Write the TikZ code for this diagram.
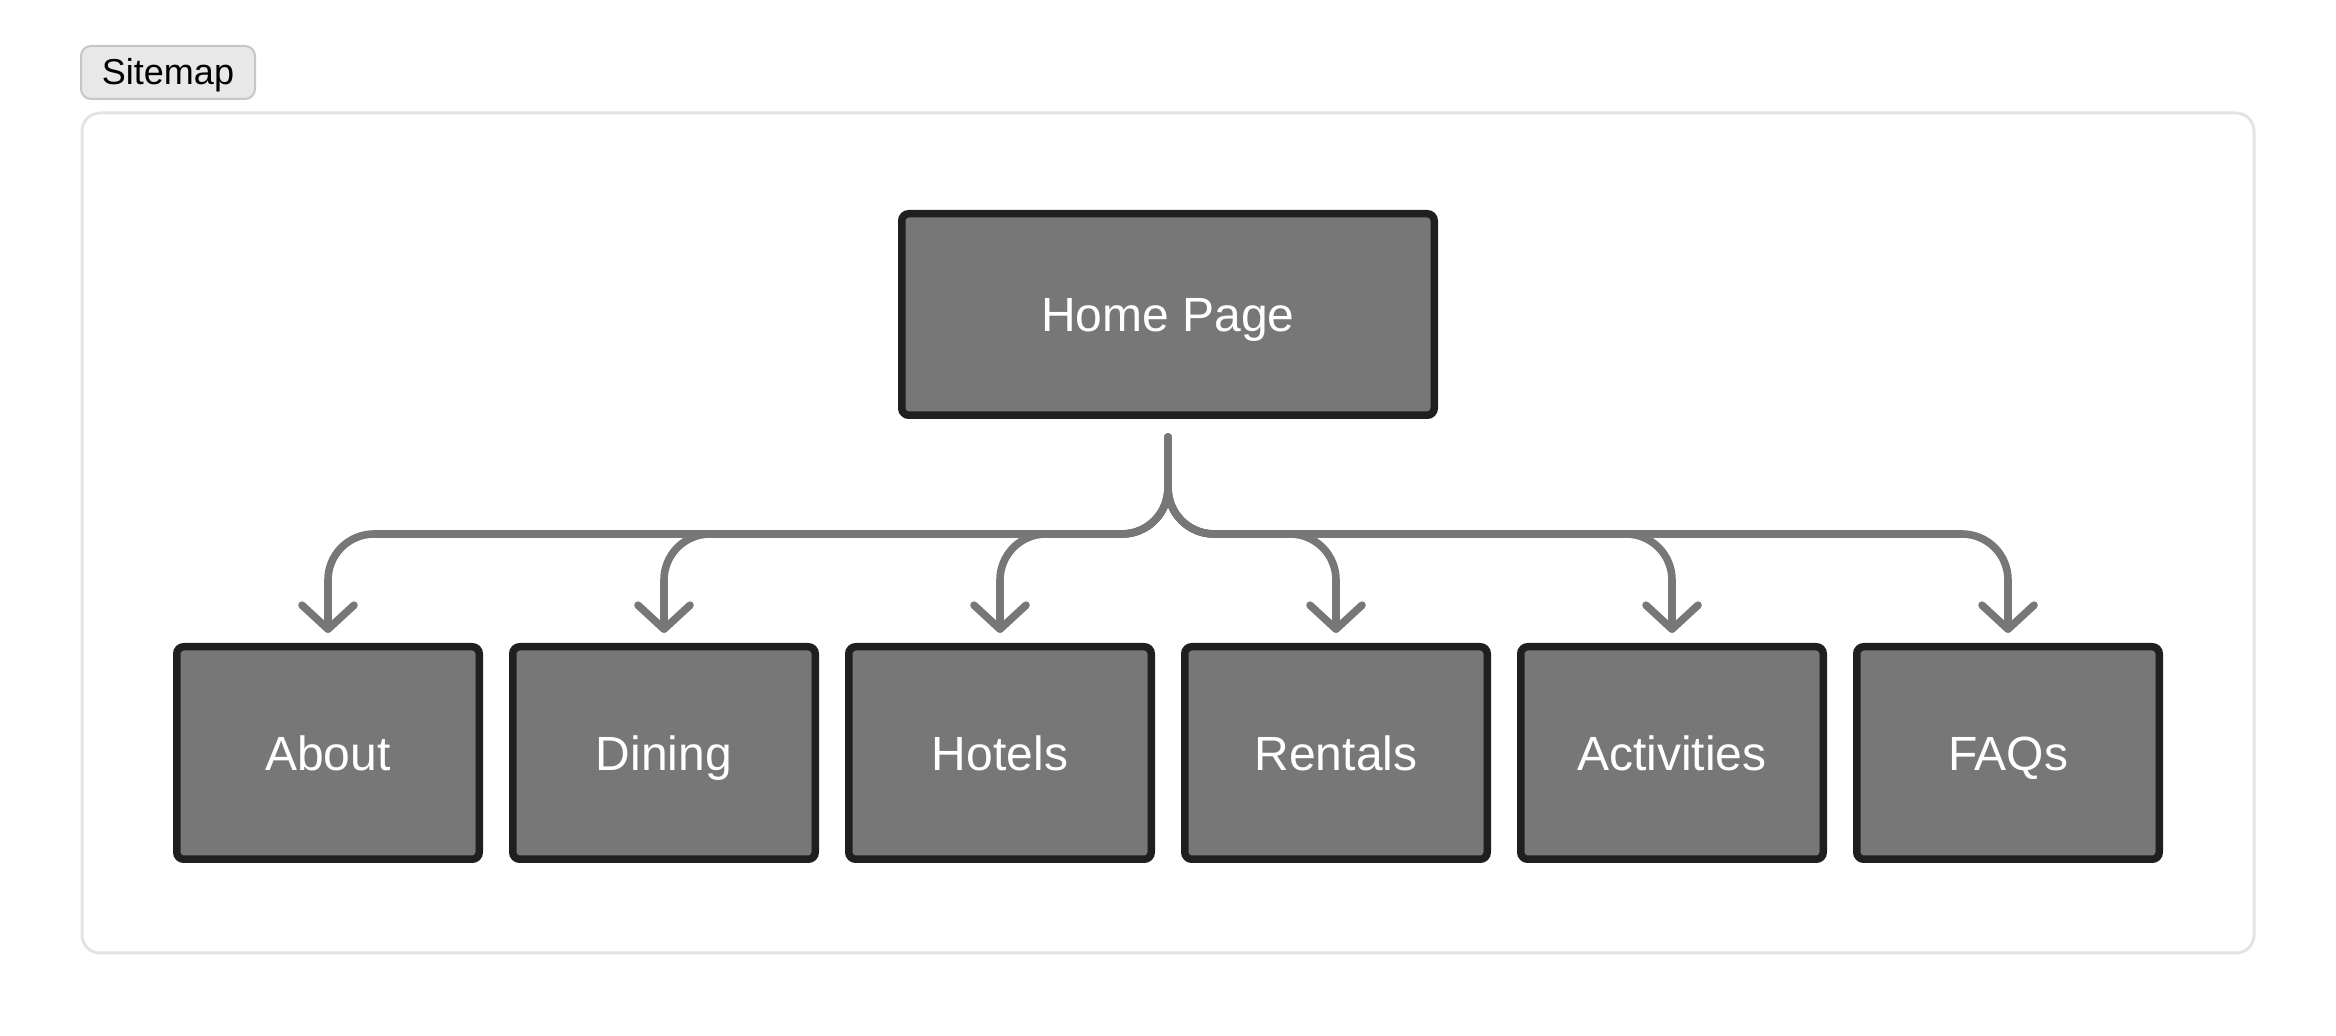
\documentclass[tikz,border=0pt]{standalone}
\usepackage{fontspec}
\setmainfont{Liberation Sans}
\usetikzlibrary{positioning, arrows.meta}
\definecolor{boxfill}{HTML}{777777}
\definecolor{boxline}{HTML}{1F1F1F}
\definecolor{linkgray}{HTML}{777777}
\definecolor{panelline}{HTML}{E3E3E3}
\definecolor{tabfill}{HTML}{E8E8E8}
\definecolor{tabline}{HTML}{C6C6C6}

\begin{document}
\begin{tikzpicture}[x = 0.5pt, y = -0.5pt, % one unit is one pixel of the screen
        > = {Straight Barb[length = 12pt, width = 26pt, round]}, % open arrow head
        node distance = 13pt % gap between the pages
    ]
    \useasboundingbox (0,0) rectangle (2336,1036);

    \tikzstyle{page}=[draw = boxline, fill = boxfill, text = white,
    line width = 3.75pt, rounded corners = 3.5pt, text height = 17.5pt,
    text depth = 0pt, font = \fontsize{24}{28}\selectfont]
    \tikzstyle{leaf}=[page, minimum width = 151.25pt, minimum height = 106.25pt]
    \tikzstyle{link}=[->, draw = linkgray, line width = 3.8pt, line cap = round,
    rounded corners = 23pt, shorten < = 9pt, shorten > = 5pt]

    % panel and its tab
    \draw[panelline, line width = 1.5pt, rounded corners = 9pt] (82,113)
    rectangle (2254,953);
    \node[draw = tabline, fill = tabfill, line width = 1pt, rounded corners = 5pt,
    minimum width = 87pt, minimum height = 26.5pt, text height = 12.5pt,
    text depth = 0pt, font = \fontsize{18}{21}\selectfont] (tab) at (168,72.5)
    {Sitemap};

    \node[page, minimum width = 266.25pt, minimum height = 100.75pt] (home) at
    (1168,314.5) {Home Page};
    \coordinate (bus) at (1168,534);

    \node[leaf] (about) at (328,753) {About}; \node[leaf] (dining) [right
        = of about] {Dining}; \node[leaf] (hotels) [right = of dining] {Hotels};
    \node[leaf] (rentals) [right = of hotels] {Rentals}; \node[leaf]
    (activities) [right = of rentals] {Activities}; \node[leaf] (faqs) [right
        = of activities] {FAQs};

    \draw[link] (home) -- (bus) -| (about); \draw[link] (home) -- (bus) -|
    (dining); \draw[link] (home) -- (bus) -| (hotels); \draw[link] (home) --
    (bus) -| (rentals); \draw[link] (home) -- (bus) -| (activities);
    \draw[link] (home) -- (bus) -| (faqs);
\end{tikzpicture}
\end{document}
